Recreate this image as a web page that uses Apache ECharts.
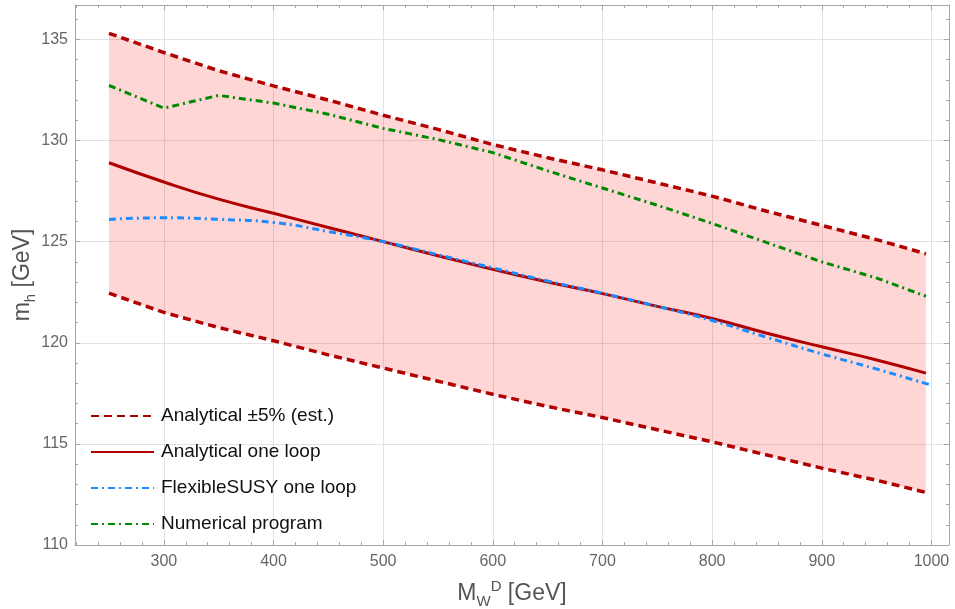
<!DOCTYPE html>
<html>
<head>
<meta charset="UTF-8">
<title>m_h vs M_W^D</title>
<script src="https://cdn.jsdelivr.net/npm/echarts@6/dist/echarts.min.js"></script>
<style>
  html, body { margin: 0; padding: 0; background: #fff; }
  #chart { width: 955px; height: 609px; }
</style>
</head>
<body>
<div id="chart"></div>
<script>
  // sample points in M_W^D (GeV)
  const mwd   = [250, 300, 350, 400, 450, 500, 550, 600, 650, 700, 750, 800, 850, 900, 950, 995];
  const mwdFs = [250, 300, 350, 400, 450, 500, 550, 600, 650, 700, 750, 800, 850, 900, 950, 1000];

  // m_h in GeV
  const analyticalUpper = [135.3, 134.35, 133.45, 132.7, 132.0, 131.25, 130.55, 129.8, 129.15, 128.55, 127.9, 127.25, 126.5, 125.8, 125.1, 124.4];
  const analyticalLower = [122.45, 121.5, 120.75, 120.1, 119.4, 118.75, 118.1, 117.45, 116.85, 116.3, 115.7, 115.1, 114.45, 113.8, 113.2, 112.6];
  const analyticalOneLoop = [128.9, 127.95, 127.1, 126.4, 125.7, 125.0, 124.3, 123.63, 123.0, 122.43, 121.8, 121.2, 120.47, 119.8, 119.15, 118.5];
  const flexibleSusy = [126.1, 126.18, 126.1, 125.95, 125.5, 125.0, 124.35, 123.7, 123.05, 122.45, 121.8, 121.1, 120.27, 119.45, 118.7, 117.9];
  const numerical = [132.72, 131.6, 132.23, 131.85, 131.3, 130.6, 130.05, 129.4, 128.5, 127.65, 126.8, 125.9, 124.95, 124.0, 123.2, 122.3];

  // tick positions
  const xMajor = [300, 400, 500, 600, 700, 800, 900, 1000];
  const xMinor = [220, 240, 260, 280, 320, 340, 360, 380, 420, 440, 460, 480, 520, 540, 560, 580,
                  620, 640, 660, 680, 720, 740, 760, 780, 820, 840, 860, 880, 920, 940, 960, 980];
  const yMajor = [110, 115, 120, 125, 130, 135];
  const yMinor = [111, 112, 113, 114, 116, 117, 118, 119, 121, 122, 123, 124, 126, 127, 128, 129, 131, 132, 133, 134, 136];

  const bandName = 'Analytical ±5% (est.)';
  const darkRed = '#b00000';
  const frameColor = '#a6a6a6';
  const gridColor = '#e2e2e2';
  const font = '"Liberation Sans", Arial, sans-serif';

  const pairs = (xs, ys) => xs.map((x, i) => [x, ys[i]]);

  function xAxisDef(position, ticks, len, main) {
    return {
      type: 'value', position: position, min: 219, max: 1016,
      axisLine: { show: main, lineStyle: { color: frameColor, width: 1 } },
      axisTick: { show: true, inside: true, length: len, customValues: ticks, lineStyle: { color: frameColor } },
      axisLabel: {
        show: main && position === 'bottom', customValues: xMajor, formatter: v => String(v),
        color: '#666', fontSize: 16, fontFamily: font, margin: 9
      },
      splitLine: { show: main && position === 'bottom', lineStyle: { color: gridColor, width: 1 } },
      name: main && position === 'bottom' ? '{a|M}{s|W}{p|D}{a| [GeV]}' : '',
      nameLocation: 'middle', nameGap: 34, nameMoveOverlap: false,
      nameTextStyle: {
        color: '#555', fontFamily: font,
        rich: {
          a: { fontSize: 23, fontFamily: font, color: '#555', lineHeight: 30, verticalAlign: 'middle' },
          s: { fontSize: 15, fontFamily: font, color: '#555', lineHeight: 15, verticalAlign: 'bottom' },
          p: { fontSize: 15, fontFamily: font, color: '#555', lineHeight: 15, verticalAlign: 'top' }
        }
      }
    };
  }

  function yAxisDef(position, ticks, len, main) {
    return {
      type: 'value', position: position, min: 110, max: 136.7,
      axisLine: { show: main, lineStyle: { color: frameColor, width: 1 } },
      axisTick: { show: true, inside: true, length: len, customValues: ticks, lineStyle: { color: frameColor } },
      axisLabel: {
        show: main && position === 'left', customValues: yMajor,
        color: '#666', fontSize: 16, fontFamily: font, margin: 7
      },
      splitLine: { show: main && position === 'left', lineStyle: { color: gridColor, width: 1 } },
      name: main && position === 'left' ? '{a|m}{s|h}{a| [GeV]}' : '',
      nameLocation: 'middle', nameGap: 37, nameMoveOverlap: false,
      nameTextStyle: {
        color: '#555', fontFamily: font,
        rich: {
          a: { fontSize: 23, fontFamily: font, color: '#555', lineHeight: 30, verticalAlign: 'middle' },
          s: { fontSize: 15, fontFamily: font, color: '#555', lineHeight: 15, verticalAlign: 'bottom' }
        }
      }
    };
  }

  // shaded ±5% band, drawn as one polygon through the axis scales
  function renderBand(params, api) {
    if (params.dataIndex !== 0) return;
    const top = mwd.map((x, i) => api.coord([x, analyticalUpper[i]]));
    const bottom = mwd.map((x, i) => api.coord([x, analyticalLower[i]])).reverse();
    return {
      type: 'polygon',
      shape: { points: top.concat(bottom) },
      style: { fill: 'rgba(255, 0, 0, 0.16)' },
      silent: true
    };
  }

  const chart = echarts.init(document.getElementById('chart'));

  chart.setOption({
    animation: false,
    backgroundColor: '#fff',
    grid: { left: 75, right: 6, top: 5, bottom: 64, containLabel: false, outerBoundsMode: 'none' },
    xAxis: [
      xAxisDef('bottom', xMajor, 5, true),
      xAxisDef('bottom', xMinor, 3, false),
      xAxisDef('top', xMajor, 5, true),
      xAxisDef('top', xMinor, 3, false)
    ],
    yAxis: [
      yAxisDef('left', yMajor, 5, true),
      yAxisDef('left', yMinor, 3, false),
      yAxisDef('right', yMajor, 5, true),
      yAxisDef('right', yMinor, 3, false)
    ],
    legend: {
      left: 85, top: 401, orient: 'vertical',
      itemWidth: 63, itemHeight: 14, itemGap: 16,
      itemStyle: { opacity: 0 },
      data: [bandName, 'Analytical one loop', 'FlexibleSUSY one loop', 'Numerical program'],
      textStyle: { color: '#111', fontSize: 19, fontFamily: font, lineHeight: 20, padding: [0, 0, 0, 2] }
    },
    series: [
      {
        name: 'band', type: 'custom', renderItem: renderBand,
        data: pairs(mwd, analyticalUpper), z: 1
      },
      {
        name: bandName, type: 'line', symbol: 'none',
        data: pairs(mwd, analyticalLower),
        lineStyle: { color: darkRed, width: 3.5, type: [8, 5] },
        itemStyle: { color: darkRed }
      },
      {
        name: bandName, type: 'line', symbol: 'none',
        data: pairs(mwd, analyticalUpper),
        lineStyle: { color: darkRed, width: 3.5, type: [8, 5] },
        itemStyle: { color: darkRed }
      },
      {
        name: 'Analytical one loop', type: 'line', symbol: 'none', smooth: true,
        data: pairs(mwd, analyticalOneLoop),
        lineStyle: { color: darkRed, width: 3 },
        itemStyle: { color: darkRed }
      },
      {
        name: 'FlexibleSUSY one loop', type: 'line', symbol: 'none', smooth: true,
        data: pairs(mwdFs, flexibleSusy),
        lineStyle: { color: '#1a8cff', width: 3, type: [7, 4, 2, 4] },
        itemStyle: { color: '#1a8cff' }
      },
      {
        name: 'Numerical program', type: 'line', symbol: 'none',
        data: pairs(mwd, numerical),
        lineStyle: { color: '#008a00', width: 3, type: [7, 4, 2, 4] },
        itemStyle: { color: '#008a00' }
      }
    ]
  });
</script>
</body>
</html>
